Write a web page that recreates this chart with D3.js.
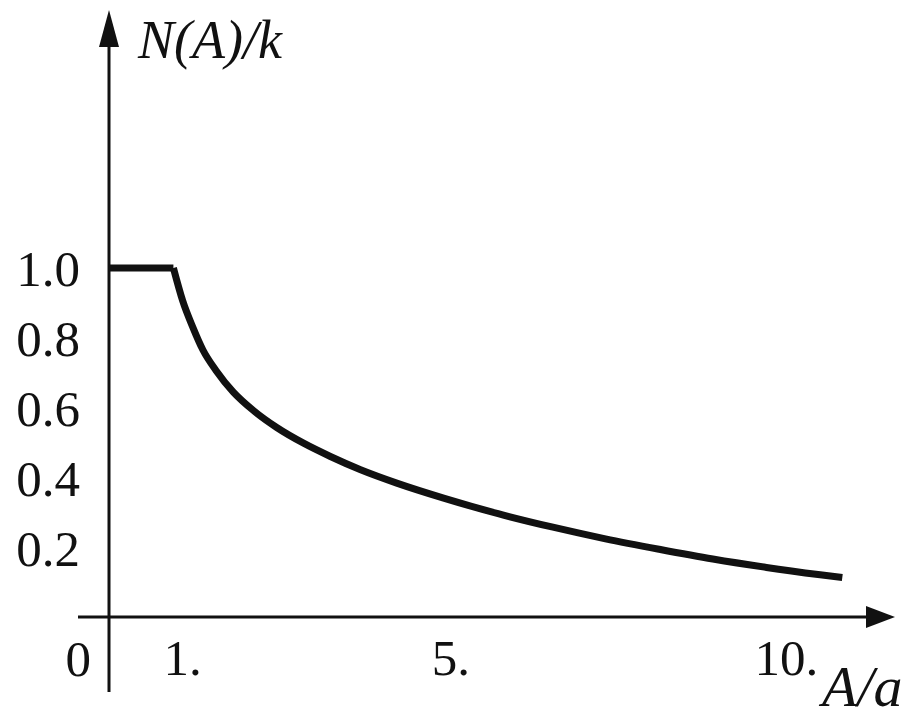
<!DOCTYPE html>
<html>
<head>
<meta charset="utf-8">
<script src="https://cdn.jsdelivr.net/npm/d3@7"></script>
<style>
  html, body { margin: 0; padding: 0; background: #fff; }
  svg { display: block; }
  .tick text { font-family: "Liberation Serif", "DejaVu Serif", serif; fill: #111; }
</style>
</head>
<body>
<svg id="chart" width="910" height="721"></svg>
<script>
// values
const flatA = [0, 0.96];
const flatN = [1, 1];
const curveA = [0.96, 1.1, 1.25, 1.4, 1.6, 1.85, 2.15, 2.5, 2.9, 3.3, 3.75, 4.3, 5.0, 5.8, 6.6, 7.4, 8.2, 9.0, 9.8, 10.6, 10.93];
const curveN = [1.0, 0.905, 0.83, 0.765, 0.705, 0.645, 0.592, 0.543, 0.498, 0.46, 0.422, 0.383, 0.34, 0.296, 0.258, 0.224, 0.194, 0.166, 0.142, 0.121, 0.113];
const yTicks = [0.2, 0.4, 0.6, 0.8, 1.0];
const xTicks = [1, 5, 10];

const svg = d3.select("#chart");
const ink = "#111";

const x = d3.scaleLinear().domain([0, 11]).range([109, 847]);
const y = d3.scaleLinear().domain([0, 1]).range([617, 268]);

svg.append("rect").attr("width", 910).attr("height", 721).attr("fill", "#fff");

// y axis labels
const yAxis = svg.append("g")
    .attr("transform", "translate(" + x(0) + ",0)")
    .call(d3.axisLeft(y).tickValues(yTicks).tickFormat(d3.format(".1f")).tickSize(0).tickPadding(29));
yAxis.select(".domain").remove();
yAxis.selectAll("text").style("font-size", "51px").attr("dy", "0.35em");

// x axis labels
const xAxis = svg.append("g")
    .attr("transform", "translate(0," + y(0) + ")")
    .call(d3.axisBottom(x).tickValues(xTicks).tickFormat(d => d + ".").tickSize(0).tickPadding(22));
xAxis.select(".domain").remove();
xAxis.selectAll("text").style("font-size", "51px").attr("dx", 6);

// origin label
svg.append("text")
    .attr("x", x(0) - 18).attr("y", y(0) + 59)
    .attr("text-anchor", "end")
    .style("font-family", "Liberation Serif, serif").style("font-size", "51px")
    .attr("fill", ink).text("0");

// axis lines with arrows
svg.append("line")
    .attr("x1", x(0)).attr("x2", x(0)).attr("y1", 692).attr("y2", 40)
    .attr("stroke", ink).attr("stroke-width", 3);
svg.append("path")
    .attr("d", d3.line()([[x(0) - 10, 47], [x(0), 10], [x(0) + 10, 47]]) + "Z")
    .attr("fill", ink);

svg.append("line")
    .attr("x1", 78).attr("x2", 870).attr("y1", y(0)).attr("y2", y(0))
    .attr("stroke", ink).attr("stroke-width", 3);
svg.append("path")
    .attr("d", d3.line()([[866, y(0) - 11], [895, y(0)], [866, y(0) + 11]]) + "Z")
    .attr("fill", ink);

// axis titles
svg.append("text")
    .attr("x", 138).attr("y", 58)
    .style("font-family", "Liberation Serif, serif").style("font-size", "54px").style("font-style", "italic")
    .attr("fill", ink).text("N(A)/k");
svg.append("text")
    .attr("x", 822).attr("y", 706)
    .style("font-family", "Liberation Serif, serif").style("font-size", "58px").style("font-style", "italic")
    .attr("fill", ink).text("A/a");

// the curve
const lineFlat = d3.line().x((d, i) => x(flatA[i])).y(d => y(d));
svg.append("path")
    .attr("d", lineFlat(flatN))
    .attr("fill", "none").attr("stroke", ink).attr("stroke-width", 7);

const lineCurve = d3.line().x((d, i) => x(curveA[i])).y(d => y(d)).curve(d3.curveMonotoneX);
svg.append("path")
    .attr("d", lineCurve(curveN))
    .attr("fill", "none").attr("stroke", ink).attr("stroke-width", 7)
    .attr("stroke-linejoin", "miter");
</script>
</body>
</html>
